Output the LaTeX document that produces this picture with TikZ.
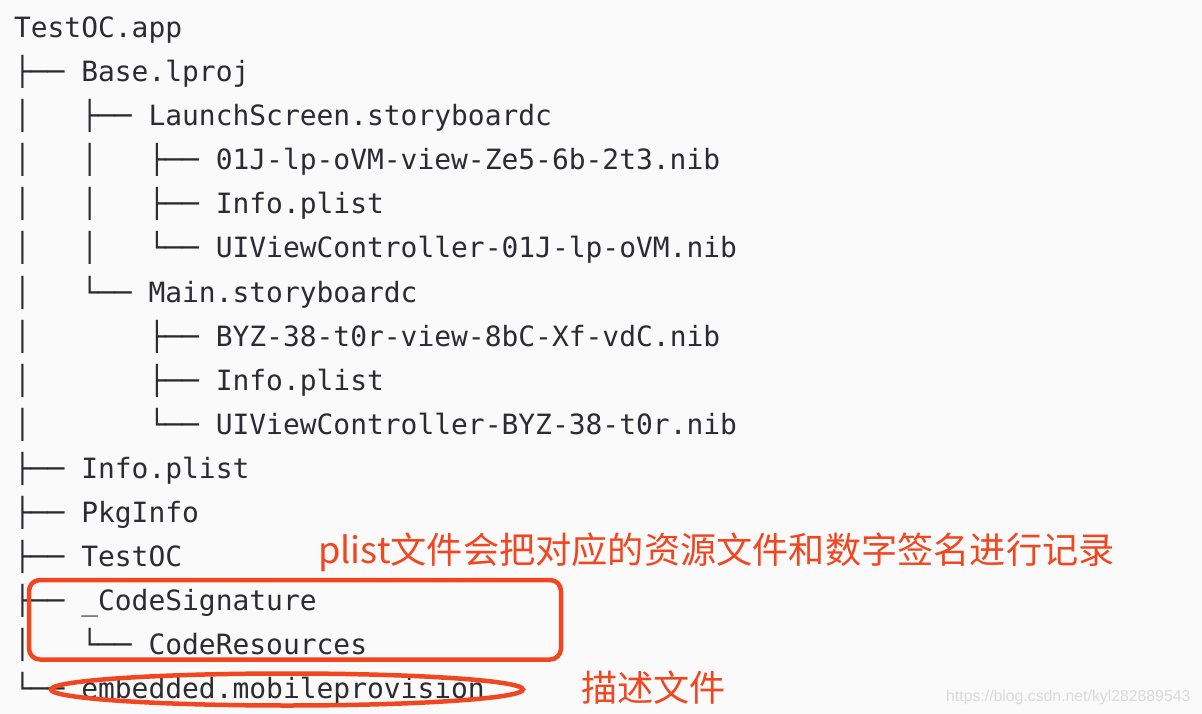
\documentclass[tikz,border=0pt]{standalone}
\usepackage{fontspec}
\usetikzlibrary{shapes.geometric}
\newfontfamily\treefont{DejaVu Sans Mono}
\newfontfamily\cjkfont{Noto Sans CJK SC}
\newfontfamily\wmfont{Liberation Sans}
\definecolor{bgc}{RGB}{250,250,250}
\definecolor{txt}{RGB}{44,44,48}
\definecolor{mark}{RGB}{242,70,32}
\definecolor{wm}{RGB}{218,218,218}
\begin{document}
\begin{tikzpicture}[x=1pt,y=-1pt,
  row/.style={anchor=base west,inner sep=0pt,outer sep=0pt,text=txt,font=\treefont\fontsize{27.93pt}{30pt}\selectfont},
  note/.style={anchor=base west,inner sep=0pt,text=mark,font=\cjkfont\fontsize{36.2pt}{40pt}\selectfont},
  hl/.style={draw=mark,line width=4.5pt}]
\fill[bgc] (0,0) rectangle (1202,714);
\useasboundingbox (0,0) rectangle (1202,714);
\node[row] (r0)  at (14,38)  {TestOC.app};
\node[row] (r1)  at (14,82)  {├──~Base.lproj};
\node[row] (r2)  at (14,126) {│~~~├──~LaunchScreen.storyboardc};
\node[row] (r3)  at (14,170) {│~~~│~~~├──~01J-lp-oVM-view-Ze5-6b-2t3.nib};
\node[row] (r4)  at (14,214) {│~~~│~~~├──~Info.plist};
\node[row] (r5)  at (14,258) {│~~~│~~~└──~UIViewController-01J-lp-oVM.nib};
\node[row] (r6)  at (14,302) {│~~~└──~Main.storyboardc};
\node[row] (r7)  at (14,346) {│~~~~~~~├──~BYZ-38-t0r-view-8bC-Xf-vdC.nib};
\node[row] (r8)  at (14,390) {│~~~~~~~├──~Info.plist};
\node[row] (r9)  at (14,434) {│~~~~~~~└──~UIViewController-BYZ-38-t0r.nib};
\node[row] (r10) at (14,478) {├──~Info.plist};
\node[row] (r11) at (14,522) {├──~PkgInfo};
\node[row] (r12) at (14,566) {├──~TestOC};
\node[row] (r13) at (14,610) {├──~\_CodeSignature};
\node[row] (r14) at (14,654) {│~~~└──~CodeResources};
\node[row] (r15) at (14,698) {└──~embedded.mobileprovision};
\node[note] (n1) at (318,563) {plist文件会把对应的资源文件和数字签名进行记录};
\node[note] (n2) at (581,701) {描述文件};
\node[anchor=base west,inner sep=0pt,text=wm,font=\wmfont\fontsize{15.8pt}{17pt}\selectfont] (wmk) at (946,701) {https://blog.csdn.net/kyl282889543};
\draw[hl,rounded corners=11pt] (29,580) rectangle (561,659.5);
\node[hl,ellipse,inner sep=0pt,minimum width=472pt,minimum height=32pt] (ell) at (287,689.5) {};
\end{tikzpicture}
\end{document}
